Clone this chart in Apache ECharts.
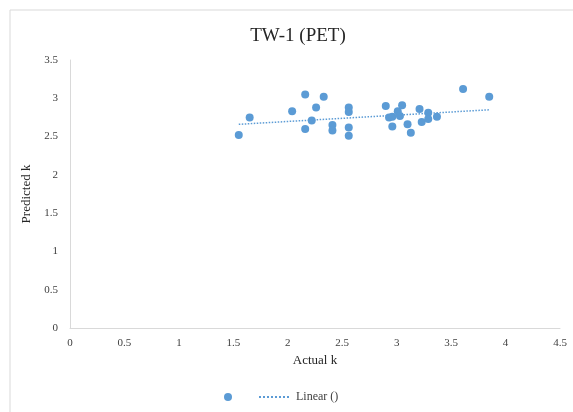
<!DOCTYPE html>
<html>
<head>
<meta charset="utf-8">
<script src="https://cdn.jsdelivr.net/npm/echarts@6/dist/echarts.min.js"></script>
<style>
  html, body { margin: 0; padding: 0; background: #fff; }
  #chart { width: 573px; height: 412px; }
</style>
</head>
<body>
<div id="chart"></div>
<script>
// actual k vs predicted k
var actualK = [1.55, 1.65, 2.16, 2.33, 2.04, 2.26, 2.22, 2.16, 2.41, 2.41,
  2.56, 2.56, 2.56, 2.56, 2.90, 2.93, 2.96, 3.01, 3.05, 3.03,
  2.96, 3.10, 3.13, 3.21, 3.23, 3.29, 3.29, 3.37, 3.61, 3.85]
var predictedK = [2.52, 2.75, 3.05, 3.02, 2.83, 2.88, 2.71, 2.60, 2.65, 2.58,
  2.88, 2.82, 2.62, 2.51, 2.90, 2.75, 2.76, 2.83, 2.91, 2.77,
  2.63, 2.66, 2.55, 2.86, 2.69, 2.81, 2.73, 2.76, 3.12, 3.02]
// trendline ends as drawn
var trendX = [1.55, 3.85]
var trendY = [2.66, 2.85]
var xTicks = [0, 4.5, 0.5]   // min, max, step
var yTicks = [0, 3.5, 0.5]

var blue = '#5b9bd5'
var serif = '"Liberation Serif", "DejaVu Serif", serif'

var points = actualK.map(function(x, i) { return [x, predictedK[i]] })
var trend = trendX.map(function(x, i) { return [x, trendY[i]] })

var myChart = echarts.init(document.getElementById('chart'))
var option = {
  backgroundColor: '#fff',
  animation: false,
  textStyle: { fontFamily: serif },
  title: {
    text: 'TW-1 (PET)',
    left: 293,
    top: 22,
    textAlign: 'center',
    textStyle: { fontFamily: serif, fontSize: 19, fontWeight: 'normal', color: '#262626' }
  },
  graphic: [{
    type: 'rect',
    shape: { x: 10, y: 10, width: 600, height: 440 },
    style: { fill: 'none', stroke: '#d9d9d9', lineWidth: 1 },
    silent: true
  }],
  grid: { left: 70, right: 13, top: 60, bottom: 84 },
  legend: {
    left: 219,
    top: 386,
    itemWidth: 32,
    itemHeight: 8,
    itemGap: 6,
    textStyle: { fontFamily: serif, fontSize: 12, color: '#404040' },
    data: [
      { name: ' ', icon: 'circle' },
      { name: 'Linear ()', itemStyle: { opacity: 0 } }
    ]
  },
  xAxis: {
    type: 'value',
    min: xTicks[0],
    max: xTicks[1],
    interval: xTicks[2],
    name: 'Actual k',
    nameLocation: 'middle',
    nameGap: 25,
    nameTextStyle: { fontFamily: serif, fontSize: 13, color: '#262626' },
    axisLine: { show: true, lineStyle: { color: '#d9d9d9' } },
    axisTick: { show: false },
    splitLine: { show: false },
    axisLabel: { fontFamily: serif, fontSize: 11, color: '#404040', margin: 10 }
  },
  yAxis: {
    type: 'value',
    min: yTicks[0],
    max: yTicks[1],
    interval: yTicks[2],
    name: 'Predicted k',
    nameLocation: 'middle',
    nameGap: 37,
    nameTextStyle: { fontFamily: serif, fontSize: 13, color: '#262626' },
    axisLine: { show: true, lineStyle: { color: '#d9d9d9' } },
    axisTick: { show: false },
    splitLine: { show: false },
    axisLabel: { fontFamily: serif, fontSize: 11, color: '#404040', margin: 12 }
  },
  series: [{
    name: ' ',
    type: 'scatter',
    symbolSize: 8,
    itemStyle: { color: blue, opacity: 1 },
    data: points
  }, {
    name: 'Linear ()',
    type: 'line',
    symbol: 'none',
    lineStyle: { color: blue, width: 1.5, type: 'dotted' },
    itemStyle: { color: blue },
    data: trend
  }]
}
myChart.setOption(option)
</script>
</body>
</html>
